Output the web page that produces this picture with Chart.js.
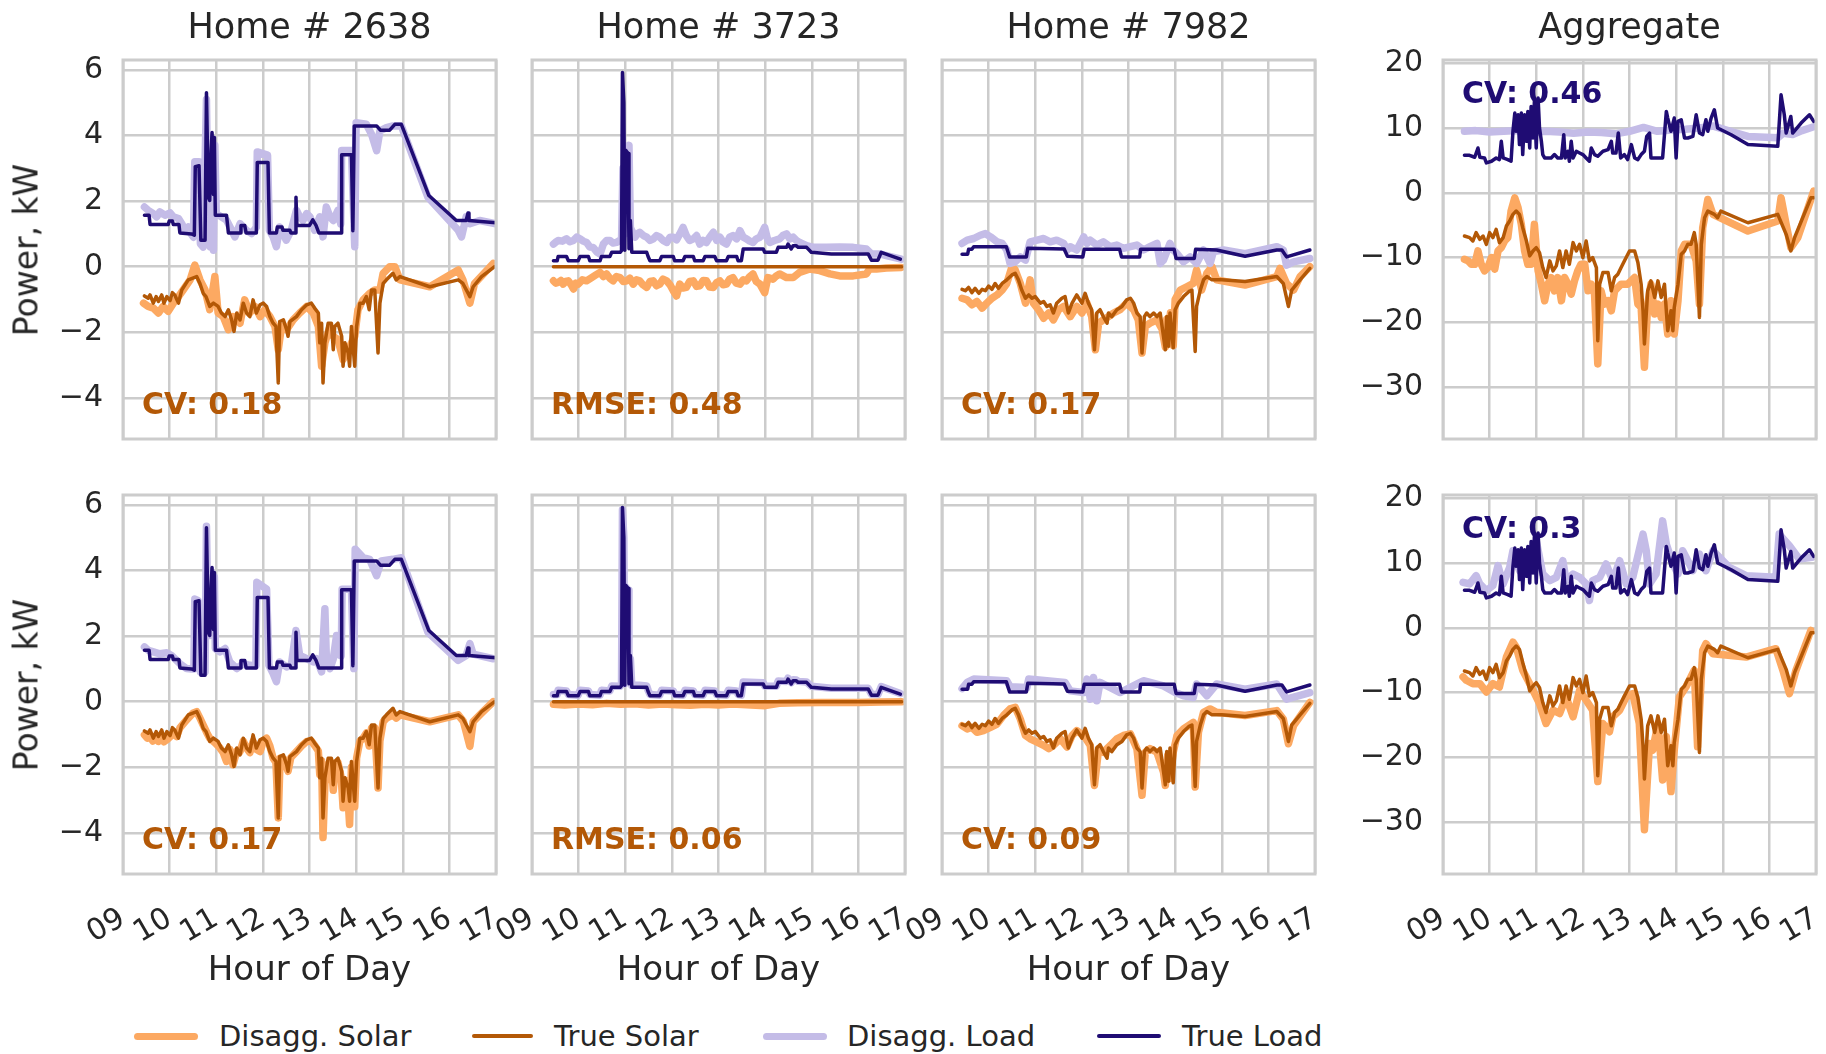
<!DOCTYPE html>
<html><head><meta charset="utf-8">
<script src="https://cdn.jsdelivr.net/npm/chart.js@4.4.1/dist/chart.umd.min.js"></script>
<style>
html,body{margin:0;padding:0;background:#fff;}
body{width:1826px;height:1054px;position:relative;overflow:hidden;font-family:'DejaVu Sans',sans-serif;color:#262626;}
canvas{position:absolute;}
.t{position:absolute;white-space:nowrap;line-height:1;}
</style></head><body>
<script>
// ---------------- DATA (hour of day, kW) ----------------
const panelTitles = ['Home # 2638', 'Home # 3723', 'Home # 7982', 'Aggregate'];
const legendLabels = ['Disagg. Solar', 'True Solar', 'Disagg. Load', 'True Load'];
const hourTicks = ['09','10','11','12','13','14','15','16','17'];
const notesTop = ['CV: 0.18', 'RMSE: 0.48', 'CV: 0.17', 'CV: 0.46'];
const notesBottom = ['CV: 0.17', 'RMSE: 0.06', 'CV: 0.09', 'CV: 0.3'];

const load2638True = [[9.46,1.57],[9.56,1.57],[9.58,1.29],[9.97,1.29],[9.99,1.39],[10.06,1.39],[10.08,1.29],[10.20,1.29],[10.22,1.03],[10.47,1.00],[10.53,0.96],[10.55,3.05],[10.63,3.08],[10.67,0.81],[10.76,0.81],[10.79,5.30],[10.83,2.12],[10.86,2.02],[10.89,3.54],[10.91,4.09],[10.94,2.20],[10.96,3.94],[10.98,1.57],[11.22,1.57],[11.24,1.31],[11.26,1.03],[11.51,1.03],[11.53,1.26],[11.61,1.26],[11.64,1.03],[11.86,1.03],[11.88,3.18],[12.11,3.18],[12.14,1.03],[12.29,1.03],[12.31,1.21],[12.41,1.21],[12.43,1.11],[12.58,1.11],[12.60,1.03],[12.69,1.03],[12.71,2.12],[12.73,1.26],[13.00,1.26],[13.07,1.43],[13.14,1.26],[13.20,1.03],[13.68,1.03],[13.69,3.41],[13.90,3.41],[13.93,1.10],[13.96,4.29],[14.44,4.29],[14.52,4.16],[14.72,4.16],[14.83,4.34],[14.97,4.34],[15.56,2.17],[16.15,1.41],[16.36,1.41],[16.40,1.64],[16.42,1.41],[17.0,1.34]];
const load2638DisaggA = [[9.46,1.82],[9.54,1.72],[9.65,1.62],[9.72,1.52],[9.79,1.67],[9.9,1.57],[10.01,1.64],[10.08,1.52],[10.19,1.47],[10.26,1.31],[10.33,1.11],[10.4,1.21],[10.46,1.0],[10.51,0.9],[10.54,3.2],[10.63,3.2],[10.66,0.7],[10.72,0.6],[10.79,5.1],[10.83,0.8],[10.87,0.6],[10.91,3.9],[10.94,0.5],[10.97,3.7],[11.0,1.62],[11.11,1.52],[11.22,1.42],[11.33,1.11],[11.4,0.91],[11.51,1.31],[11.65,1.11],[11.76,1.01],[11.86,1.2],[11.88,3.5],[12.1,3.4],[12.14,1.11],[12.22,0.91],[12.29,0.61],[12.36,1.21],[12.5,0.81],[12.61,1.11],[12.72,1.72],[12.79,1.52],[12.86,1.41],[12.94,1.62],[13.01,1.52],[13.11,1.11],[13.22,1.52],[13.29,0.91],[13.36,1.82],[13.44,1.52],[13.51,1.41],[13.61,1.72],[13.67,1.3],[13.69,3.54],[13.9,3.54],[13.97,0.61],[14.0,4.39],[14.22,4.34],[14.33,4.04],[14.44,3.54],[14.51,4.14],[14.65,4.24],[14.79,4.29],[14.97,4.29],[15.54,2.12],[16.19,1.11],[16.26,0.91],[16.36,1.52],[16.44,1.31],[16.65,1.41],[17.0,1.31]];
const load2638DisaggB = [[9.46,1.67],[9.54,1.57],[9.65,1.52],[9.79,1.46],[9.94,1.49],[10.04,1.41],[10.22,1.16],[10.36,1.01],[10.47,1.0],[10.52,1.0],[10.54,3.13],[10.61,3.08],[10.66,0.91],[10.76,0.91],[10.79,5.35],[10.83,2.1],[10.86,2.02],[10.91,3.94],[10.94,2.3],[10.96,3.8],[10.98,1.62],[11.08,1.52],[11.19,1.62],[11.29,1.21],[11.44,1.01],[11.58,1.16],[11.72,1.11],[11.85,1.1],[11.87,3.64],[12.08,3.43],[12.13,1.11],[12.22,0.86],[12.29,0.61],[12.36,1.21],[12.51,1.06],[12.61,1.11],[12.71,2.17],[12.79,1.41],[12.94,1.31],[13.08,1.21],[13.15,1.31],[13.26,0.91],[13.33,2.83],[13.36,1.41],[13.44,1.01],[13.51,1.31],[13.58,2.02],[13.65,1.41],[13.68,1.4],[13.7,3.43],[13.9,3.43],[13.95,1.01],[13.98,4.65],[14.15,4.39],[14.29,4.34],[14.44,3.84],[14.54,4.29],[14.79,4.34],[14.97,4.39],[15.54,2.12],[16.19,1.26],[16.36,1.41],[16.44,1.77],[16.51,1.45],[16.94,1.31]];
const solar2638True = [[9.46,-0.89],[9.54,-0.96],[9.58,-0.86],[9.65,-1.11],[9.71,-0.91],[9.76,-1.06],[9.83,-0.86],[9.88,-1.11],[9.94,-0.91],[10.01,-1.03],[10.06,-0.79],[10.11,-0.86],[10.19,-1.11],[10.26,-0.71],[10.4,-0.4],[10.58,-0.3],[10.65,-0.51],[10.72,-0.81],[10.78,-0.91],[10.86,-1.21],[10.94,-1.11],[11.04,-1.21],[11.11,-1.41],[11.19,-1.52],[11.26,-1.31],[11.33,-1.62],[11.38,-1.97],[11.44,-1.41],[11.51,-1.62],[11.58,-1.11],[11.65,-1.41],[11.72,-1.52],[11.79,-1.01],[11.86,-1.41],[11.94,-1.16],[12.01,-1.11],[12.08,-1.21],[12.15,-1.52],[12.22,-1.72],[12.28,-1.82],[12.33,-3.54],[12.36,-1.67],[12.44,-1.62],[12.51,-1.92],[12.54,-2.12],[12.58,-1.67],[12.72,-1.52],[12.83,-1.31],[12.94,-1.16],[13.04,-1.11],[13.11,-1.26],[13.19,-1.41],[13.22,-2.32],[13.26,-1.72],[13.29,-3.54],[13.33,-2.32],[13.4,-1.72],[13.47,-1.72],[13.51,-2.53],[13.54,-1.82],[13.61,-1.72],[13.69,-2.12],[13.72,-3.03],[13.76,-2.32],[13.83,-2.63],[13.86,-3.03],[13.9,-1.82],[13.94,-2.53],[13.97,-3.03],[14.01,-1.82],[14.08,-1.11],[14.15,-1.11],[14.22,-0.91],[14.28,-1.31],[14.33,-0.71],[14.4,-0.71],[14.47,-2.63],[14.51,-1.11],[14.58,-0.51],[14.65,-0.4],[14.79,-0.2],[14.86,-0.4],[14.94,-0.3],[15.58,-0.61],[16.19,-0.4],[16.29,-0.51],[16.44,-0.91],[16.51,-0.61],[16.69,-0.3],[16.97,0.0]];
const solar2638DisaggA = [[9.44,-1.11],[9.54,-1.21],[9.65,-1.26],[9.76,-1.41],[9.86,-1.21],[9.97,-1.36],[10.08,-1.11],[10.19,-0.91],[10.29,-0.71],[10.44,-0.4],[10.54,0.05],[10.65,-0.4],[10.76,-0.71],[10.86,-1.31],[10.97,-0.3],[11.04,-1.41],[11.15,-1.52],[11.26,-1.92],[11.36,-1.52],[11.51,-1.72],[11.61,-1.01],[11.72,-1.41],[11.83,-1.21],[11.94,-1.52],[12.04,-1.31],[12.15,-1.52],[12.26,-1.82],[12.33,-2.53],[12.4,-1.82],[12.51,-1.92],[12.65,-1.62],[12.79,-1.41],[12.94,-1.21],[13.08,-1.41],[13.19,-1.82],[13.26,-3.03],[13.33,-2.32],[13.44,-1.82],[13.51,-2.12],[13.61,-2.22],[13.72,-2.83],[13.83,-2.53],[13.9,-2.32],[13.97,-2.12],[14.04,-1.31],[14.15,-1.01],[14.29,-0.81],[14.4,-0.71],[14.51,-0.71],[14.58,-0.2],[14.72,0.0],[14.83,0.0],[14.94,-0.4],[15.58,-0.61],[16.19,-0.1],[16.29,-0.4],[16.44,-1.11],[16.54,-0.51],[16.94,0.1]];
const solar2638DisaggB = [[9.46,-1.01],[9.52,-1.11],[9.58,-1.06],[9.64,-1.2],[9.7,-1.05],[9.76,-1.21],[9.82,-1.02],[9.88,-1.22],[9.94,-1.16],[10.02,-1.05],[10.08,-0.95],[10.15,-1.06],[10.22,-0.8],[10.36,-0.56],[10.5,-0.35],[10.58,-0.3],[10.65,-0.5],[10.72,-0.71],[10.8,-0.95],[10.86,-1.11],[10.97,-1.25],[11.08,-1.41],[11.15,-1.55],[11.22,-1.82],[11.29,-1.45],[11.36,-1.92],[11.44,-1.5],[11.51,-1.52],[11.58,-1.2],[11.65,-1.41],[11.72,-1.55],[11.79,-1.21],[11.86,-1.45],[11.94,-1.52],[12.01,-1.2],[12.08,-1.11],[12.15,-1.35],[12.22,-1.72],[12.28,-1.85],[12.33,-3.54],[12.37,-1.72],[12.45,-1.75],[12.54,-2.12],[12.6,-1.7],[12.72,-1.52],[12.83,-1.35],[12.94,-1.21],[13.04,-1.2],[13.12,-1.35],[13.19,-1.5],[13.22,-2.22],[13.26,-1.8],[13.29,-4.14],[13.33,-2.5],[13.4,-1.9],[13.47,-1.85],[13.51,-2.7],[13.55,-2.02],[13.61,-1.85],[13.68,-2.3],[13.72,-3.23],[13.77,-2.4],[13.83,-3.03],[13.86,-3.74],[13.9,-2.0],[13.94,-2.63],[13.97,-3.2],[14.01,-1.72],[14.08,-1.2],[14.15,-1.11],[14.22,-0.95],[14.28,-1.35],[14.33,-0.81],[14.4,-0.8],[14.47,-2.63],[14.51,-1.2],[14.58,-0.61],[14.65,-0.5],[14.79,-0.4],[14.86,-0.5],[14.94,-0.4],[15.58,-0.61],[16.19,-0.4],[16.3,-0.6],[16.44,-1.36],[16.51,-0.61],[16.69,-0.35],[16.94,0.0]];

const load3723True = [[9.46,0.18],[9.54,0.18],[9.56,0.31],[9.74,0.31],[9.78,0.18],[9.99,0.18],[10.03,0.31],[10.21,0.31],[10.24,0.18],[10.46,0.18],[10.49,0.31],[10.67,0.31],[10.71,0.44],[10.89,0.44],[10.92,0.49],[10.94,5.92],[10.97,5.0],[10.99,0.5],[11.01,3.55],[11.06,3.45],[11.08,0.55],[11.11,1.41],[11.14,0.44],[11.46,0.44],[11.49,0.31],[11.53,0.18],[11.74,0.18],[11.78,0.31],[12.03,0.31],[12.06,0.18],[12.24,0.18],[12.28,0.31],[12.46,0.31],[12.49,0.18],[12.67,0.18],[12.71,0.31],[12.92,0.31],[12.96,0.18],[13.17,0.18],[13.21,0.31],[13.39,0.31],[13.42,0.18],[13.49,0.18],[13.53,0.54],[13.96,0.54],[13.99,0.44],[14.24,0.44],[14.28,0.59],[14.46,0.59],[14.49,0.69],[14.56,0.54],[14.6,0.64],[14.67,0.64],[14.71,0.59],[14.89,0.59],[14.99,0.44],[15.42,0.39],[16.21,0.39],[16.28,0.2],[16.42,0.2],[16.49,0.44],[16.9,0.23]];
const load3723DisaggA = [[9.46,0.69],[9.51,0.75],[9.56,0.8],[9.65,0.78],[9.74,0.85],[9.81,0.76],[9.89,0.8],[9.96,0.9],[10.03,0.85],[10.1,0.78],[10.17,0.74],[10.24,0.6],[10.31,0.59],[10.39,0.45],[10.46,0.39],[10.53,0.69],[10.6,0.8],[10.67,0.8],[10.74,0.72],[10.81,0.74],[10.88,0.8],[10.92,0.8],[10.95,3.0],[10.99,1.0],[11.02,3.3],[11.08,3.7],[11.11,1.2],[11.14,1.1],[11.21,0.9],[11.26,1.0],[11.31,1.05],[11.39,0.95],[11.46,0.9],[11.53,0.8],[11.6,0.85],[11.67,0.95],[11.74,0.9],[11.81,0.8],[11.89,0.74],[11.96,0.9],[12.03,0.9],[12.1,0.82],[12.17,1.0],[12.24,1.2],[12.31,0.95],[12.38,0.8],[12.46,0.85],[12.53,0.95],[12.6,0.69],[12.67,0.8],[12.74,0.74],[12.81,0.9],[12.89,1.05],[12.96,0.8],[13.03,0.9],[13.1,0.75],[13.17,0.69],[13.24,0.9],[13.31,0.95],[13.39,0.85],[13.46,1.1],[13.53,0.9],[13.6,0.85],[13.67,0.78],[13.74,0.74],[13.81,0.85],[13.89,0.9],[13.99,1.2],[14.05,0.85],[14.1,0.74],[14.2,0.8],[14.31,0.85],[14.38,0.95],[14.46,1.0],[14.53,0.85],[14.6,0.9],[14.67,0.8],[14.74,0.74],[14.89,0.64],[15.03,0.59],[15.31,0.59],[15.6,0.6],[15.89,0.59],[16.17,0.54],[16.28,0.39],[16.46,0.39],[16.6,0.34],[16.92,0.23]];
const load3723DisaggB = [[9.46,0.22],[9.54,0.22],[9.56,0.35],[9.74,0.33],[9.78,0.22],[9.99,0.2],[10.03,0.35],[10.21,0.33],[10.24,0.22],[10.46,0.2],[10.49,0.35],[10.67,0.33],[10.71,0.48],[10.89,0.47],[10.92,0.52],[10.94,5.85],[10.97,5.0],[10.99,0.55],[11.01,3.5],[11.06,3.4],[11.08,0.6],[11.11,1.3],[11.14,0.5],[11.3,0.5],[11.46,0.48],[11.49,0.35],[11.53,0.22],[11.74,0.2],[11.78,0.35],[12.03,0.33],[12.06,0.22],[12.24,0.2],[12.28,0.35],[12.46,0.33],[12.49,0.22],[12.67,0.2],[12.71,0.35],[12.92,0.33],[12.96,0.22],[13.17,0.2],[13.21,0.35],[13.39,0.33],[13.42,0.22],[13.49,0.2],[13.53,0.6],[13.96,0.58],[13.99,0.48],[14.24,0.47],[14.28,0.63],[14.46,0.62],[14.49,0.72],[14.56,0.58],[14.6,0.67],[14.67,0.66],[14.71,0.62],[14.89,0.6],[14.99,0.47],[15.42,0.41],[16.21,0.41],[16.28,0.23],[16.42,0.22],[16.49,0.46],[16.9,0.25]];
const solar3723True = [[9.46,0],[10,0],[11,0],[12,0],[13,0],[14,0],[15,0],[16,0],[16.93,0]];
const solar3723DisaggA = [[9.46,-0.43],[9.51,-0.5],[9.56,-0.48],[9.62,-0.42],[9.67,-0.53],[9.72,-0.45],[9.78,-0.43],[9.84,-0.55],[9.89,-0.68],[9.94,-0.5],[9.99,-0.53],[10.08,-0.4],[10.17,-0.43],[10.28,-0.33],[10.37,-0.25],[10.46,-0.17],[10.53,-0.3],[10.6,-0.22],[10.67,-0.35],[10.74,-0.43],[10.81,-0.3],[10.89,-0.33],[10.96,-0.45],[11.03,-0.43],[11.1,-0.35],[11.17,-0.53],[11.24,-0.4],[11.31,-0.43],[11.38,-0.55],[11.46,-0.63],[11.53,-0.45],[11.6,-0.43],[11.67,-0.58],[11.74,-0.53],[11.81,-0.38],[11.89,-0.43],[11.96,-0.55],[12.03,-0.73],[12.1,-0.89],[12.17,-0.53],[12.24,-0.65],[12.31,-0.63],[12.38,-0.45],[12.46,-0.43],[12.53,-0.6],[12.6,-0.58],[12.67,-0.42],[12.74,-0.43],[12.81,-0.62],[12.89,-0.63],[12.96,-0.48],[13.03,-0.43],[13.1,-0.55],[13.17,-0.53],[13.24,-0.38],[13.31,-0.33],[13.38,-0.5],[13.46,-0.53],[13.53,-0.4],[13.6,-0.43],[13.67,-0.3],[13.74,-0.22],[13.81,-0.45],[13.89,-0.53],[13.99,-0.79],[14.06,-0.33],[14.17,-0.38],[14.24,-0.28],[14.31,-0.22],[14.46,-0.33],[14.6,-0.33],[14.74,-0.17],[14.96,-0.07],[15.17,-0.12],[15.39,-0.22],[15.6,-0.28],[15.89,-0.28],[16.17,-0.22],[16.24,-0.07],[16.39,-0.07],[16.6,-0.04],[16.92,-0.02]];
const solar3723DisaggB = [[9.46,-0.08],[9.7,-0.1],[10,-0.07],[10.3,-0.09],[10.6,-0.05],[10.9,-0.08],[11.2,-0.06],[11.5,-0.1],[11.8,-0.07],[12.1,-0.09],[12.4,-0.11],[12.7,-0.08],[13,-0.1],[13.3,-0.07],[13.6,-0.09],[14,-0.12],[14.3,-0.05],[14.7,-0.03],[15.2,-0.02],[16,-0.02],[16.5,-0.01],[16.93,0]];

const load7982True = [[9.43,0.38],[9.55,0.38],[9.57,0.53],[9.64,0.53],[9.68,0.61],[10.38,0.61],[10.45,0.30],[10.81,0.30],[10.84,0.56],[11.62,0.54],[11.69,0.32],[12.02,0.30],[12.05,0.53],[12.81,0.53],[12.85,0.30],[13.24,0.30],[13.26,0.53],[13.98,0.53],[14.02,0.25],[14.41,0.25],[14.44,0.53],[14.89,0.51],[15.5,0.32],[16.18,0.51],[16.29,0.51],[16.39,0.30],[16.89,0.51]];
const load7982DisaggA = [[9.43,0.71],[9.54,0.81],[9.68,0.86],[9.82,0.96],[9.93,1.01],[10.04,0.91],[10.18,0.76],[10.29,0.71],[10.39,0.51],[10.46,0.1],[10.57,0.15],[10.68,0.3],[10.79,0.2],[10.89,0.76],[11.04,0.81],[11.18,0.86],[11.32,0.76],[11.46,0.81],[11.61,0.71],[11.68,0.5],[11.75,0.61],[11.89,0.51],[12.04,0.91],[12.11,0.71],[12.18,0.81],[12.32,0.66],[12.46,0.76],[12.61,0.61],[12.75,0.66],[12.89,0.56],[13.04,0.61],[13.18,0.66],[13.32,0.51],[13.46,0.61],[13.61,0.71],[13.68,0.1],[13.75,0.2],[13.89,0.71],[13.96,0.51],[14.04,0.4],[14.18,0.15],[14.32,0.3],[14.46,0.1],[14.61,0.51],[14.75,0.1],[14.82,0.46],[15.04,0.51],[15.5,0.4],[16.18,0.61],[16.32,0.51],[16.39,0.05],[16.54,0.15],[16.89,0.25]];
const load7982DisaggB = [[9.43,0.4],[9.54,0.59],[9.68,0.69],[10.39,0.64],[10.46,0.46],[10.82,0.43],[10.86,0.69],[11.64,0.59],[11.75,0.33],[12.04,0.28],[12.11,0.69],[12.18,0.08],[12.25,0.74],[12.32,0.03],[12.39,0.59],[12.82,0.28],[13.25,0.59],[13.32,0.64],[13.75,0.48],[14.0,0.28],[14.18,0.18],[14.39,0.13],[14.46,0.54],[14.68,0.18],[14.89,0.54],[15.5,0.38],[16.18,0.54],[16.39,0.08],[16.89,0.28]];
const solar7982True = [[9.43,-0.69],[9.5,-0.73],[9.57,-0.63],[9.64,-0.79],[9.71,-0.66],[9.79,-0.81],[9.86,-0.69],[9.93,-0.73],[10.0,-0.59],[10.07,-0.69],[10.14,-0.51],[10.21,-0.66],[10.29,-0.51],[10.39,-0.4],[10.5,-0.25],[10.57,-0.2],[10.64,-0.4],[10.71,-0.71],[10.79,-0.96],[10.86,-0.86],[10.93,-0.96],[11.0,-0.91],[11.11,-1.11],[11.18,-1.06],[11.25,-1.21],[11.32,-1.16],[11.39,-1.41],[11.46,-1.11],[11.57,-0.96],[11.64,-0.91],[11.71,-1.41],[11.79,-1.11],[11.89,-0.86],[12.0,-1.11],[12.07,-0.81],[12.14,-1.11],[12.21,-1.31],[12.27,-2.53],[12.32,-1.41],[12.39,-1.31],[12.46,-1.52],[12.54,-1.72],[12.57,-1.41],[12.64,-1.52],[12.75,-1.31],[12.86,-1.21],[12.96,-1.01],[13.04,-0.96],[13.11,-1.11],[13.18,-1.41],[13.25,-1.52],[13.29,-2.63],[13.34,-1.52],[13.39,-1.41],[13.46,-1.52],[13.54,-1.41],[13.61,-1.52],[13.68,-1.41],[13.75,-2.12],[13.79,-2.53],[13.82,-1.52],[13.86,-2.42],[13.89,-1.41],[13.96,-2.47],[14.0,-1.31],[14.07,-1.11],[14.18,-0.91],[14.29,-0.76],[14.36,-0.71],[14.43,-2.58],[14.46,-1.21],[14.54,-0.71],[14.61,-0.4],[14.68,-0.3],[14.79,-0.4],[14.89,-0.4],[15.0,-0.4],[15.5,-0.45],[16.18,-0.3],[16.32,-0.51],[16.43,-1.21],[16.5,-0.71],[16.68,-0.4],[16.89,-0.05]];
const solar7982DisaggA = [[9.43,-0.96],[9.54,-1.01],[9.64,-1.16],[9.75,-1.06],[9.86,-1.26],[9.96,-1.11],[10.07,-0.96],[10.18,-0.86],[10.29,-0.71],[10.39,-0.51],[10.5,0.0],[10.57,-0.1],[10.68,-0.51],[10.79,-1.11],[10.89,-0.4],[10.96,-1.11],[11.07,-1.31],[11.18,-1.57],[11.29,-1.41],[11.39,-1.62],[11.5,-1.31],[11.61,-1.21],[11.75,-1.52],[11.89,-1.21],[12.0,-1.41],[12.11,-1.11],[12.21,-1.52],[12.29,-2.53],[12.36,-1.72],[12.46,-1.62],[12.57,-1.52],[12.68,-1.41],[12.82,-1.31],[12.96,-1.11],[13.11,-1.31],[13.21,-1.62],[13.29,-2.63],[13.36,-1.82],[13.46,-1.72],[13.61,-1.62],[13.72,-1.9],[13.79,-2.45],[13.82,-1.6],[13.86,-2.35],[13.9,-1.4],[13.96,-2.4],[14.0,-1.0],[14.11,-0.71],[14.25,-0.61],[14.39,-0.51],[14.46,-0.1],[14.57,-0.71],[14.68,-0.2],[14.79,0.0],[14.89,-0.4],[15.5,-0.56],[16.18,-0.3],[16.25,-0.05],[16.39,-0.51],[16.54,-0.71],[16.68,-0.3],[16.89,0.0]];
const solar7982DisaggB = [[9.43,-0.73],[9.54,-0.83],[9.64,-0.78],[9.75,-0.93],[9.89,-0.88],[10.04,-0.78],[10.18,-0.68],[10.32,-0.42],[10.46,-0.22],[10.57,-0.17],[10.68,-0.53],[10.79,-1.03],[10.89,-1.13],[11.04,-1.23],[11.18,-1.33],[11.29,-1.43],[11.39,-1.33],[11.54,-1.13],[11.68,-1.38],[11.79,-1.03],[11.89,-0.88],[12.04,-1.03],[12.18,-1.33],[12.27,-2.55],[12.36,-1.43],[12.46,-1.54],[12.61,-1.33],[12.75,-1.13],[12.89,-1.03],[13.04,-0.98],[13.18,-1.43],[13.29,-2.85],[13.36,-1.54],[13.46,-1.43],[13.61,-1.54],[13.75,-2.14],[13.79,-2.55],[13.84,-1.64],[13.89,-2.34],[13.96,-1.54],[14.04,-1.03],[14.18,-0.83],[14.39,-0.63],[14.43,-2.6],[14.5,-0.93],[14.61,-0.32],[14.75,-0.22],[14.89,-0.32],[15.5,-0.42],[16.18,-0.27],[16.32,-0.53],[16.43,-1.28],[16.54,-0.73],[16.89,-0.02]];

const loadAggTrue = [[9.46,5.79],[9.57,5.79],[9.68,5.49],[9.75,6.92],[9.79,5.49],[9.89,5.38],[9.93,4.62],[10.04,4.87],[10.14,5.38],[10.21,5.13],[10.25,7.95],[10.29,5.38],[10.39,5.13],[10.46,4.87],[10.5,9.49],[10.54,12.31],[10.57,9.49],[10.61,12.05],[10.64,7.44],[10.68,12.31],[10.71,5.9],[10.75,12.05],[10.79,7.95],[10.82,12.56],[10.86,6.92],[10.89,13.33],[10.93,8.46],[10.96,14.1],[11.0,6.92],[11.04,14.62],[11.07,10.0],[11.11,7.95],[11.14,5.9],[11.18,5.38],[11.25,5.38],[11.32,5.38],[11.39,5.9],[11.46,5.38],[11.54,5.38],[11.59,8.97],[11.62,5.38],[11.68,6.41],[11.71,4.87],[11.75,7.95],[11.79,5.38],[11.86,6.41],[11.93,6.15],[12.0,5.9],[12.07,5.38],[12.14,4.87],[12.18,6.92],[12.25,5.9],[12.32,5.64],[12.43,6.41],[12.54,6.67],[12.61,7.95],[12.64,6.15],[12.71,6.15],[12.76,9.23],[12.81,5.38],[12.89,5.9],[12.96,5.13],[13.04,7.44],[13.11,5.38],[13.18,5.13],[13.25,5.9],[13.32,6.41],[13.37,8.72],[13.43,9.23],[13.46,5.38],[13.61,5.38],[13.71,5.38],[13.79,12.56],[13.82,11.54],[13.89,9.49],[13.96,11.54],[14.0,5.38],[14.04,11.03],[14.11,11.28],[14.18,8.46],[14.25,8.46],[14.36,8.72],[14.43,12.05],[14.5,9.23],[14.57,8.97],[14.64,11.28],[14.68,9.49],[14.75,11.54],[14.82,12.82],[14.89,10.0],[15.18,8.97],[15.54,7.44],[16.18,7.18],[16.25,15.13],[16.32,12.05],[16.36,9.23],[16.46,11.79],[16.5,9.23],[16.68,10.77],[16.86,12.05],[16.95,11.03]];
const loadAggDisaggA = [[9.46,9.5],[9.7,9.6],[10.0,9.4],[10.3,9.5],[10.6,9.6],[10.9,9.3],[11.2,9.5],[11.5,9.4],[11.8,9.2],[12.1,9.4],[12.4,9.3],[12.7,9.1],[13.0,9.5],[13.3,10.1],[13.6,9.5],[13.9,9.7],[14.2,9.8],[14.5,10.0],[14.8,10.3],[15.2,9.4],[15.54,8.7],[16.18,8.5],[16.3,9.2],[16.5,9.0],[16.7,9.6],[16.95,10.2]];
const loadAggDisaggB = [[9.43,7.03],[9.57,6.77],[9.71,8.05],[9.79,6.77],[9.93,5.74],[10.07,6.51],[10.18,9.59],[10.29,6.77],[10.43,9.33],[10.5,11.9],[10.64,8.82],[10.79,10.87],[10.93,11.9],[11.0,13.44],[11.14,8.31],[11.29,7.28],[11.43,7.79],[11.57,10.36],[11.64,7.28],[11.79,8.31],[11.93,7.79],[12.07,6.77],[12.14,4.21],[12.21,7.28],[12.36,7.79],[12.5,9.85],[12.64,7.28],[12.79,10.36],[12.93,6.77],[13.07,7.79],[13.29,14.46],[13.36,11.9],[13.43,6.77],[13.57,8.31],[13.71,16.51],[13.79,12.92],[13.93,9.85],[14.04,8.31],[14.14,11.9],[14.36,8.82],[14.5,11.38],[14.64,8.82],[14.79,11.9],[15.14,9.33],[15.5,8.05],[16.14,7.79],[16.21,14.46],[16.43,12.67],[16.64,10.62],[16.91,10.87]];
const solarAggTrue = [[9.46,-6.67],[9.57,-6.92],[9.64,-7.44],[9.71,-6.15],[9.79,-7.18],[9.86,-6.67],[9.93,-7.95],[10.0,-6.15],[10.07,-6.92],[10.14,-5.64],[10.21,-7.69],[10.29,-6.92],[10.36,-5.13],[10.43,-4.36],[10.5,-3.33],[10.57,-2.82],[10.64,-3.33],[10.71,-5.38],[10.79,-7.44],[10.86,-9.74],[10.93,-8.97],[11.0,-8.46],[11.07,-9.23],[11.14,-11.54],[11.21,-13.08],[11.29,-10.51],[11.36,-12.05],[11.43,-11.28],[11.5,-8.97],[11.57,-11.54],[11.64,-8.97],[11.71,-11.03],[11.79,-7.69],[11.86,-8.97],[11.93,-7.95],[12.0,-10.0],[12.07,-7.44],[12.14,-10.51],[12.21,-10.0],[12.29,-11.54],[12.32,-22.82],[12.36,-14.1],[12.43,-12.31],[12.54,-12.31],[12.61,-15.13],[12.68,-13.08],[12.75,-12.56],[12.82,-11.54],[12.89,-10.51],[13.0,-8.97],[13.11,-8.97],[13.18,-10.77],[13.25,-14.1],[13.29,-18.21],[13.32,-23.33],[13.39,-15.13],[13.46,-13.59],[13.54,-16.15],[13.61,-13.59],[13.68,-16.15],[13.75,-14.1],[13.82,-21.28],[13.89,-18.21],[13.93,-21.28],[13.96,-17.69],[14.04,-14.1],[14.11,-9.49],[14.18,-8.97],[14.25,-7.95],[14.32,-7.95],[14.39,-6.15],[14.43,-7.95],[14.5,-19.23],[14.54,-7.95],[14.61,-3.85],[14.68,-2.82],[14.82,-3.33],[14.89,-3.85],[14.96,-2.82],[15.54,-4.62],[16.18,-3.33],[16.36,-6.41],[16.46,-8.97],[16.54,-6.92],[16.89,-0.77],[16.95,-0.77]];
const solarAggDisaggA = [[9.46,-10.26],[9.54,-10.51],[9.61,-11.03],[9.68,-11.03],[9.75,-8.97],[9.82,-11.03],[9.89,-12.05],[9.96,-11.54],[10.04,-10.0],[10.11,-11.79],[10.18,-8.97],[10.25,-8.46],[10.32,-7.44],[10.39,-6.92],[10.46,-2.82],[10.54,-0.77],[10.61,-2.31],[10.68,-4.87],[10.75,-8.97],[10.82,-11.03],[10.89,-11.03],[10.96,-4.87],[11.04,-12.05],[11.11,-14.1],[11.18,-16.67],[11.25,-14.1],[11.32,-13.08],[11.39,-15.13],[11.46,-13.08],[11.54,-16.67],[11.61,-13.08],[11.68,-14.1],[11.75,-15.64],[11.82,-13.59],[11.89,-12.05],[11.96,-11.03],[12.04,-11.03],[12.11,-15.13],[12.18,-14.1],[12.25,-15.64],[12.32,-26.41],[12.39,-15.13],[12.46,-17.18],[12.54,-16.67],[12.61,-18.21],[12.68,-15.13],[12.82,-14.1],[12.96,-14.1],[13.11,-13.08],[13.18,-17.18],[13.25,-17.69],[13.32,-26.92],[13.39,-17.18],[13.46,-14.1],[13.54,-18.72],[13.61,-17.18],[13.68,-19.23],[13.75,-17.18],[13.82,-21.79],[13.89,-16.67],[13.96,-21.79],[14.04,-16.67],[14.11,-8.97],[14.18,-7.95],[14.32,-7.95],[14.43,-10.51],[14.5,-17.18],[14.57,-5.38],[14.68,-1.03],[14.79,-3.33],[15.54,-5.9],[16.18,-4.36],[16.25,-0.77],[16.36,-4.87],[16.46,-8.46],[16.61,-6.92],[16.95,0.26]];
const solarAggDisaggB = [[9.43,-7.59],[9.5,-8.1],[9.64,-8.62],[9.79,-8.62],[9.93,-9.9],[10.07,-8.62],[10.21,-9.13],[10.36,-4.51],[10.5,-2.21],[10.57,-2.97],[10.71,-6.56],[10.86,-8.62],[11.07,-11.69],[11.21,-14.77],[11.36,-12.72],[11.5,-13.23],[11.64,-10.67],[11.79,-13.74],[11.93,-9.64],[12.07,-11.18],[12.21,-12.72],[12.32,-23.74],[12.43,-14.77],[12.57,-16.05],[12.64,-13.74],[12.79,-12.72],[12.93,-10.67],[13.07,-10.15],[13.21,-14.77],[13.32,-31.18],[13.43,-17.85],[13.5,-18.87],[13.61,-14.77],[13.71,-23.49],[13.79,-16.82],[13.89,-25.28],[13.96,-18.87],[14.07,-10.67],[14.21,-9.13],[14.39,-6.56],[14.46,-18.36],[14.57,-3.49],[14.64,-2.46],[14.79,-4.0],[15.5,-4.51],[16.14,-3.23],[16.29,-6.56],[16.43,-10.15],[16.57,-6.56],[16.89,-0.41]];

// ---------------- LAYOUT / STYLE ----------------
const COL_LEFT = [123, 532, 942, 1443];
const ROW_TOP = [60, 495];
const PW = 373, PH = 379;
const GRID = '#cccccc', TXT = '#262626';
const C_DS = '#fca962', C_TS = '#b35806', C_DL = '#c4bce7', C_TL = '#1f0c73';

Chart.defaults.font.family = "'DejaVu Sans', sans-serif";
Chart.defaults.color = TXT;

const boxPlugin = {
  id: 'box',
  afterDatasetsDraw(c) {
    const a = c.chartArea, ctx = c.ctx;
    ctx.save(); ctx.strokeStyle = GRID; ctx.lineWidth = 3;
    ctx.strokeRect(a.left, a.top, a.right - a.left, a.bottom - a.top);
    ctx.restore();
  }
};

function pts(a) { return a.map(p => ({ x: p[0], y: p[1] })); }
function ds(label, arr, color, w) {
  return { label, data: pts(arr), borderColor: color, borderWidth: w, pointRadius: 0, fill: false, tension: 0,
           borderJoinStyle: 'round', borderCapStyle: 'round' };
}
function fmtY(v) { return (v < 0 ? '\u2212' : '') + Math.abs(v); }

const series = [
  [load2638True, load2638DisaggA, load2638DisaggB, solar2638True, solar2638DisaggA, solar2638DisaggB],
  [load3723True, load3723DisaggA, load3723DisaggB, solar3723True, solar3723DisaggA, solar3723DisaggB],
  [load7982True, load7982DisaggA, load7982DisaggB, solar7982True, solar7982DisaggA, solar7982DisaggB],
  [loadAggTrue, loadAggDisaggA, loadAggDisaggB, solarAggTrue, solarAggDisaggA, solarAggDisaggB]
];

function makePanel(col, row) {
  const L = 80, R = 80, T = 50, B = row === 1 ? 110 : 50;
  const w = PW + L + R, h = PH + T + B;
  const cv = document.createElement('canvas');
  cv.width = w; cv.height = h;
  cv.style.left = (COL_LEFT[col] - L) + 'px'; cv.style.top = (ROW_TOP[row] - T) + 'px';
  cv.style.width = w + 'px'; cv.style.height = h + 'px';
  document.body.appendChild(cv);
  const s = series[col];
  const agg = col === 3;
  const showY = col === 0 || col === 3;
  new Chart(cv, {
    type: 'line',
    data: { datasets: [
      ds(legendLabels[3], s[0], C_TL, 3.5),
      ds(legendLabels[2], row === 0 ? s[1] : s[2], C_DL, 7.5),
      ds(legendLabels[1], s[3], C_TS, 3.5),
      ds(legendLabels[0], row === 0 ? s[4] : s[5], C_DS, 7.5)
    ]},
    options: {
      responsive: false, animation: false, events: [],
      layout: { autoPadding: false, padding: { left: 0, top: T, right: R, bottom: 0 } },
      plugins: { legend: { display: false }, tooltip: { enabled: false } },
      scales: {
        x: { type: 'linear', min: 9, max: 17,
             afterFit: sc => { sc.height = B; },
             ticks: { display: row === 1, stepSize: 1, autoSkip: false, minRotation: 30, maxRotation: 30, padding: 27,
                      font: { size: 30 }, color: TXT, callback: v => hourTicks[Math.round(v) - 9] },
             grid: { color: GRID, lineWidth: 2.5, drawTicks: false }, border: { display: false } },
        y: { min: agg ? -38 : -5.25, max: agg ? 20.5 : 6.3,
             afterFit: sc => { sc.width = L; },
             ticks: { display: showY, stepSize: agg ? 10 : 2, includeBounds: false, padding: 20,
                      font: { size: 30 }, color: TXT, callback: fmtY },
             grid: { color: GRID, lineWidth: 2.5, drawTicks: false }, border: { display: false } }
      }
    },
    plugins: [boxPlugin]
  });
}

function addText(txt, x, y, size, opts) {
  opts = opts || {};
  const d = document.createElement('div');
  d.className = 't'; d.textContent = txt;
  d.style.fontSize = size + 'px';
  d.style.left = x + 'px'; d.style.top = y + 'px';
  d.style.color = opts.color || TXT;
  if (opts.bold) d.style.fontWeight = 'bold';
  d.style.transform = opts.transform || 'translate(-50%,-50%)';
  document.body.appendChild(d);
  return d;
}

for (let r = 0; r < 2; r++) for (let c = 0; c < 4; c++) makePanel(c, r);

// titles
for (let c = 0; c < 4; c++) addText(panelTitles[c], COL_LEFT[c] + PW / 2, 26, 35);
// y labels
addText('Power, kW', 26, ROW_TOP[0] + PH / 2, 33, { transform: 'translate(-50%,-50%) rotate(-90deg)' });
addText('Power, kW', 26, ROW_TOP[1] + PH / 2, 33, { transform: 'translate(-50%,-50%) rotate(-90deg)' });
// x labels
for (let c = 0; c < 3; c++) addText('Hour of Day', COL_LEFT[c] + PW / 2, 968, 34);
// annotations
for (let r = 0; r < 2; r++) {
  const notes = r === 0 ? notesTop : notesBottom;
  for (let c = 0; c < 4; c++) {
    const y = c === 3 ? ROW_TOP[r] + 33 : ROW_TOP[r] + 344;
    addText(notes[c], COL_LEFT[c] + 19, y, 30, { bold: true, color: c === 3 ? C_TL : C_TS, transform: 'translate(0,-50%)' });
  }
}
// legend
const legItems = [
  { sx: 134, ex: 198, tx: 219, color: C_DS, w: 7 },
  { sx: 472, ex: 533, tx: 554, color: C_TS, w: 4 },
  { sx: 763, ex: 827, tx: 847, color: C_DL, w: 7 },
  { sx: 1097, ex: 1161, tx: 1182, color: C_TL, w: 4 }
];
legItems.forEach((it, i) => {
  const sw = document.createElement('div');
  sw.style.position = 'absolute'; sw.style.left = it.sx + 'px'; sw.style.width = (it.ex - it.sx) + 'px';
  sw.style.top = (1036 - it.w / 2) + 'px'; sw.style.height = it.w + 'px';
  sw.style.background = it.color; sw.style.borderRadius = (it.w / 2) + 'px';
  document.body.appendChild(sw);
  addText(legendLabels[i], it.tx, 1036, 29, { transform: 'translate(0,-50%)' });
});
</script>
</body></html>
